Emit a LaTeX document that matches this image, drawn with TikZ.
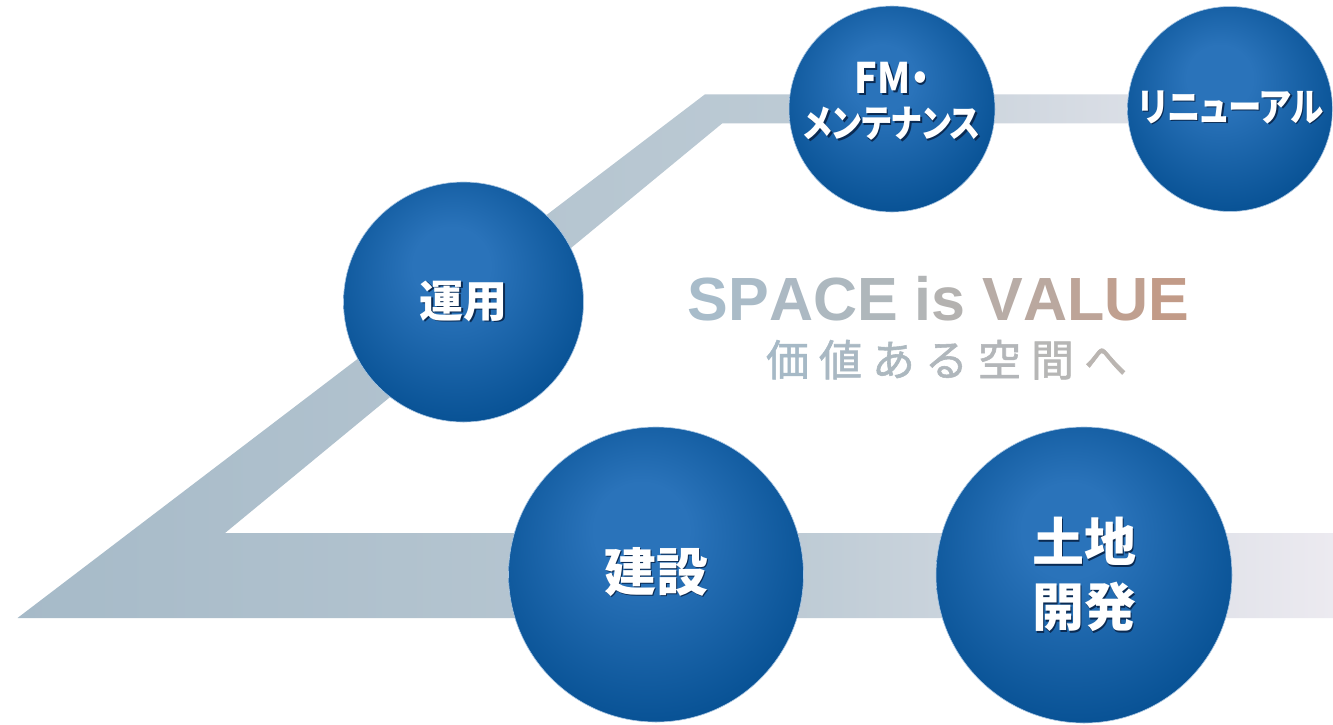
\documentclass[tikz,border=0pt]{standalone}
\usepackage{fontspec}
\usepackage{graphicx}
\setmainfont{Liberation Sans}
\newfontfamily\jp{Noto Sans CJK JP}
\newfontfamily\jpsub{Noto Sans CJK JP}[FakeBold=1.3]
\newfontfamily\jpk{Noto Sans CJK JP}[RawFeature=+palt]
\newfontfamily\ttl{Liberation Sans}
\definecolor{cl}{HTML}{2A73BA}
\definecolor{cd}{HTML}{004A8C}
\definecolor{txtsh}{HTML}{0A2A52}
\definecolor{b0}{HTML}{A6BAC8}
\definecolor{b1}{HTML}{BCCAD4}
\definecolor{b2}{HTML}{ECEAF0}
\definecolor{tA}{HTML}{A8BCCA}
\definecolor{tM}{HTML}{B3B4B4}
\definecolor{tB}{HTML}{C39A86}
\definecolor{sA}{HTML}{A6B9C6}
\definecolor{sB}{HTML}{BAB5B1}
\pgfdeclareradialshading{bluecirc}{\pgfqpoint{-3bp}{9bp}}{color(0bp)=(cl); color(8bp)=(cl); color(34bp)=(cd); color(50bp)=(cd)}
\pgfdeclarehorizontalshading{bandshade}{100bp}{color(0bp)=(b0); color(25bp)=(b0); color(54bp)=(b1); color(75bp)=(b2); color(100bp)=(b2)}
\newcommand\shd[1]{\leavevmode\rlap{\kern1.8pt\raisebox{-1.8pt}{\textcolor{txtsh}{#1}}}#1}
\newcommand\tc[3]{\textcolor{#1!#2}{#3}}
\begin{document}
\begin{tikzpicture}[x=1pt,y=-1pt,
  bubble/.style={circle, shading=bluecirc, inner sep=0pt, draw=white!60!cl, line width=0.6pt},
  lbl/.style={text=white, align=center, inner sep=0pt}]
\useasboundingbox (0,0) rectangle (1333,724);
\fill[white] (0,0) rectangle (1333,724);
% band
\coordinate (p1) at (17.5,618);
\coordinate (p2) at (705,94.3);
\coordinate (p3) at (1230,94.3);
\coordinate (p4) at (1230,123.3);
\coordinate (p5) at (722.3,123.3);
\coordinate (p6) at (225,533);
\coordinate (p7) at (1333,533);
\coordinate (p8) at (1333,618);
\shade[shading=bandshade] (p1) -- (p2) -- (p3) -- (p4) -- (p5) -- (p6) -- (p7) -- (p8) -- cycle;
% circles
\node[bubble, minimum size=240pt] (unyo) at (463.5,302) {};
\node[bubble, minimum size=206pt] (fm) at (892,109) {};
\node[bubble, minimum size=205pt] (renew) at (1230,109) {};
\node[bubble, minimum size=295pt] (kensetsu) at (656,574.5) {};
\node[bubble, minimum size=296pt] (tochi) at (1084,575) {};
% labels
\node[lbl, font={\jp\bfseries\fontsize{44}{52}\selectfont}] (tunyo) at (unyo) {\shd{運用}};
\node[lbl, font={\jp\bfseries\fontsize{52}{60}\selectfont}] (tkensetsu) at ([yshift=2]kensetsu.center) {\shd{建設}};
\node[lbl, font={\jp\bfseries\fontsize{52}{65}\selectfont}] (ttochi) at (tochi) {\shd{土地}\\\shd{開発}};
\node[lbl, font={\jpk\bfseries\fontsize{38}{46}\selectfont}] (tfm) at (892,102)
 {\scalebox{0.9}[1]{\fontsize{42}{46}\selectfont\shd{FM・}}\\[-2pt]\scalebox{0.85}[1]{\shd{メンテナンス}}};
\node[lbl, font={\jpk\bfseries\fontsize{39}{45}\selectfont}] (trenew) at (1231,108) {\scalebox{0.86}[1]{\shd{リニューアル}}};
% title
\node[anchor=base, inner sep=0pt, font={\ttl\bfseries\fontsize{61}{70}\selectfont}] (title) at (938.5,320)
 {\tc{tA}{100!tM}{S}\tc{tA}{85!tM}{P}\tc{tA}{68!tM}{A}\tc{tA}{50!tM}{C}\tc{tA}{33!tM}{E} \tc{tA}{8!tM}{i}\tc{tM}{92!tB}{s} \tc{tM}{70!tB}{V}\tc{tM}{55!tB}{A}\tc{tM}{40!tB}{L}\tc{tM}{22!tB}{U}\tc{tM}{5!tB}{E}};
\node[anchor=base, inner sep=0pt, font={\jpsub\fontsize{43}{50}\selectfont}] (subtitle) at (946.5,376)
 {\tc{sA}{100!sB}{価}\hspace{10pt}\tc{sA}{84!sB}{値}\hspace{10pt}\tc{sA}{68!sB}{あ}\hspace{10pt}\tc{sA}{52!sB}{る}\hspace{10pt}\tc{sA}{36!sB}{空}\hspace{10pt}\tc{sA}{18!sB}{間}\hspace{10pt}\tc{sA}{0!sB}{へ}};
\end{tikzpicture}
\end{document}
